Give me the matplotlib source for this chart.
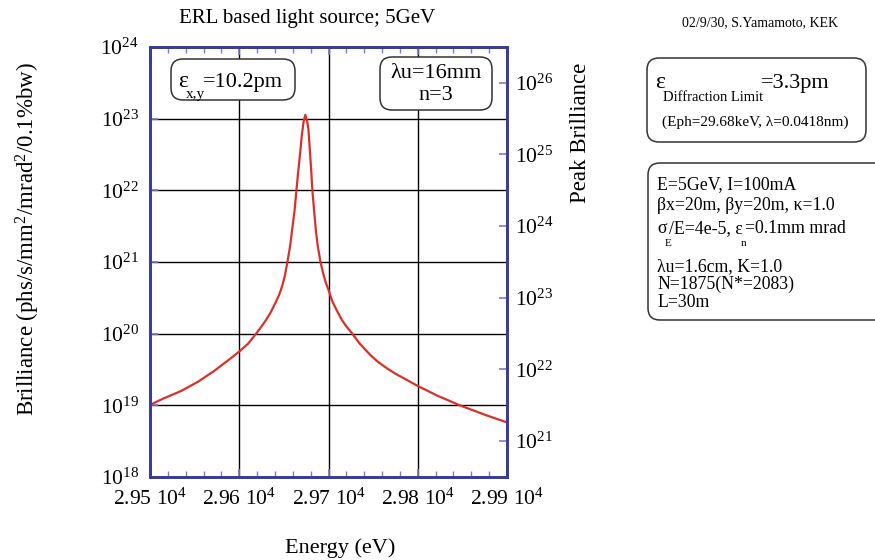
import numpy as np
import matplotlib
matplotlib.use("Agg")
import matplotlib.pyplot as plt
from matplotlib.patches import FancyBboxPatch
from matplotlib.transforms import IdentityTransform
from matplotlib.ticker import FixedLocator, MultipleLocator, FixedFormatter, NullFormatter

plt.rcParams['font.family'] = ['Liberation Serif', 'DejaVu Serif']
plt.rcParams['mathtext.fontset'] = 'custom'
plt.rcParams['mathtext.rm'] = 'Liberation Serif'
plt.rcParams['mathtext.it'] = 'Liberation Serif:italic'

# photon energy (eV) and log10 of brilliance
energy = [29499, 29516, 29535, 29554, 29572, 29591, 29600, 29610, 29619, 29625,
          29630, 29635, 29641, 29645, 29648, 29651, 29654, 29657, 29659, 29662,
          29664, 29666, 29668, 29670, 29672, 29674, 29676, 29677.5, 29679.5, 29681,
          29682, 29684, 29686, 29688, 29691, 29694, 29697, 29700, 29704, 29709,
          29715, 29720, 29726, 29735, 29747, 29755, 29765, 29775, 29784, 29800,
          29821, 29847, 29877, 29898]
log_bril = [19.0, 19.10, 19.20, 19.33, 19.48, 19.66, 19.75, 19.86, 20.0, 20.10,
            20.19, 20.29, 20.44, 20.55, 20.66, 20.80, 21.0, 21.22, 21.42, 21.72,
            21.99, 22.25, 22.49, 22.75, 22.95, 23.05, 22.97, 22.85, 22.49, 22.2,
            21.99, 21.70, 21.42, 21.22, 21.0, 20.84, 20.71, 20.61, 20.46, 20.33,
            20.19, 20.10, 20.01, 19.86, 19.70, 19.61, 19.52, 19.44, 19.38, 19.27,
            19.14, 19.0, 18.86, 18.77]

x_ticks = [29500, 29600, 29700, 29800, 29900]
x_labels = [r'2.95 $10^{4}$', r'2.96 $10^{4}$', r'2.97 $10^{4}$',
            r'2.98 $10^{4}$', r'2.99 $10^{4}$']
left_exp = [18, 19, 20, 21, 22, 23, 24]
right_exp = [21, 22, 23, 24, 25, 26]
peak_offset = 2.5  # log10(peak / average)

W, H = 875, 560
fig = plt.figure(figsize=(W / 100, H / 100), dpi=100)
renderer = fig.canvas.get_renderer()


def fx(px):
    return px / W


def fy(py):
    return 1 - py / H


ax = fig.add_axes([fx(150), fy(477), fx(507) - fx(150), fy(46.8) - fy(477)])
spine_col = '#3b3b9b'
tick_col = '#7a7ac8'

ax.plot(energy, 10 ** np.array(log_bril), color='#d9302a', lw=1.6)
ax.set_yscale('log')
ax.set_xlim(29500, 29900)
ax.set_ylim(1e18, 1e24)

ax.xaxis.set_major_locator(FixedLocator(x_ticks))
ax.xaxis.set_major_formatter(FixedFormatter(x_labels))
ax.xaxis.set_minor_locator(MultipleLocator(20))
ax.yaxis.set_major_locator(FixedLocator([10.0 ** e for e in left_exp]))
ax.yaxis.set_major_formatter(FixedFormatter([r'$10^{%d}$' % e for e in left_exp]))
ax.yaxis.set_minor_formatter(NullFormatter())
ax.yaxis.set_minor_locator(FixedLocator([]))
ax.grid(True, which='major', color='black', lw=1)
ax.tick_params(which='both', direction='in', colors=tick_col, labelcolor='black',
               top=True, labelsize=15.5, pad=8)
ax.tick_params(which='major', length=6, width=1.2)
ax.tick_params(which='minor', length=4, width=1)
ax.tick_params(axis='y', which='both', right=False)
for s in ax.spines.values():
    s.set_color(spine_col)
    s.set_linewidth(2)

ax2 = ax.twinx()
ax2.set_yscale('log')
ax2.set_ylim(10 ** (18 + peak_offset), 10 ** (24 + peak_offset))
ax2.yaxis.set_major_locator(FixedLocator([10.0 ** e for e in right_exp]))
ax2.yaxis.set_major_formatter(FixedFormatter([r'$10^{%d}$' % e for e in right_exp]))
ax2.yaxis.set_minor_locator(FixedLocator([]))
ax2.tick_params(which='major', direction='in', colors=tick_col, labelcolor='black',
                length=6, width=1.2, labelsize=15.5, pad=6)
for s in ax2.spines.values():
    s.set_color(spine_col)
    s.set_linewidth(2)


def txt(x, y, s, size, **kw):
    kw.setdefault('ha', 'left')
    kw.setdefault('va', 'center')
    return fig.text(fx(x), fy(y), s, fontsize=size, **kw)


def chain(x, y, pieces):
    # pieces: (text, size, baseline shift in px); y is the main baseline
    for s, size, dy in pieces:
        t = txt(x, y + dy, s, size, va='baseline')
        x = t.get_window_extent(renderer).x1 - 2


def rbox(x0, y0, x1, y1, r=12):
    p = FancyBboxPatch((x0, H - y1), x1 - x0, y1 - y0,
                       boxstyle='round,pad=0,rounding_size=%d' % r, transform=IdentityTransform(),
                       fc='white', ec='#333333', lw=1.1)
    fig.patches.append(p)


txt(307, 19, 'ERL based light source; 5GeV', 15, ha='center')
txt(760, 23, '02/9/30, S.Yamamoto, KEK', 10, ha='center')
txt(340, 548, 'Energy (eV)', 16, ha='center')
txt(28, 239, r'Brilliance (phs/s/mm$^{2}$/mrad$^{2}$/0.1%bw)', 16.5, ha='center', rotation=90)
txt(580, 133, 'Peak Brilliance', 16.5, ha='center', rotation=90)

# boxes inside the plot
rbox(171, 59, 295, 100)
chain(178, 87, [('ε', 17, 0), ('x,y', 11, 11), ('=10.2pm', 16, 0)])
rbox(380, 57, 492, 110)
txt(436, 73, 'λu=16mm', 16, ha='center')
txt(436, 95, 'n=3', 16, ha='center')

# parameter boxes on the right
rbox(647, 58, 866, 142)
chain(655, 88, [('ε', 17, 0), ('Diffraction Limit', 10.5, 13), ('=3.3pm', 16, 0)])
txt(662, 122, '(Eph=29.68keV, λ=0.0418nm)', 11)

rbox(648, 163, 905, 320)
fs = 12.8
txt(657, 189, 'E=5GeV, I=100mA', fs, va='baseline')
txt(657, 210, 'βx=20m, βy=20m, κ=1.0', fs, va='baseline')
chain(657, 233, [('σ', fs, 0), ('E', 8, 13), ('/E=4e-5, ε', fs, 0), ('n', 8, 13),
                 ('=0.1mm mrad', fs, 0)])
txt(657, 271, 'λu=1.6cm, K=1.0', fs, va='baseline')
txt(657, 289, 'N=1875(N*=2083)', fs, va='baseline')
txt(657, 307, 'L=30m', fs, va='baseline')

fig.savefig('out.png', dpi=100)
